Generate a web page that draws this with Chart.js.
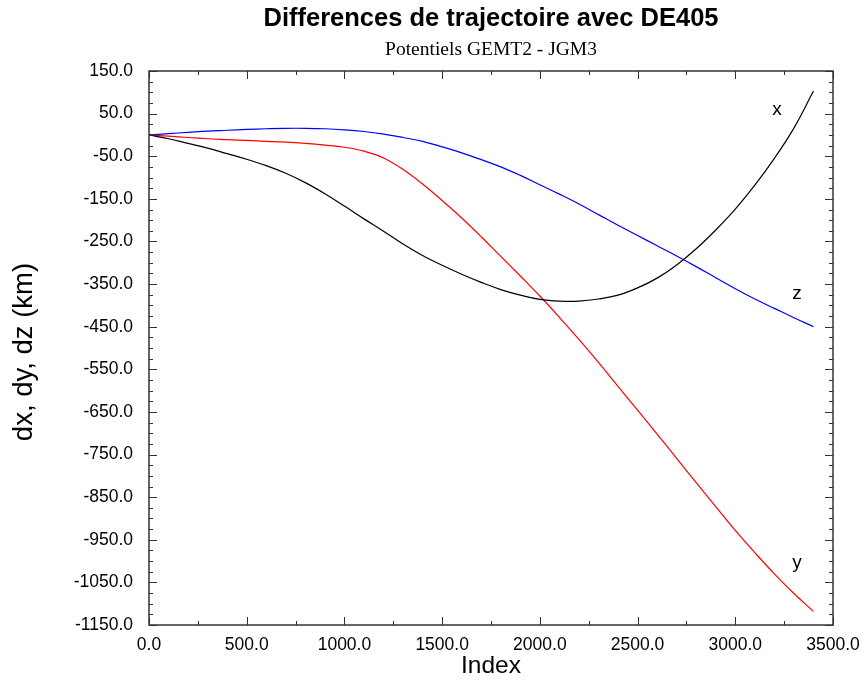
<!DOCTYPE html>
<html lang="fr">
<head>
    <meta charset="UTF-8">
    <title>Differences de trajectoire avec DE405</title>
    <script src="https://cdn.jsdelivr.net/npm/chart.js"></script>
    <style>
        html, body { margin: 0; padding: 0; background: #fff; }
        #wrap { width: 865px; height: 682px; }
    </style>
</head>
<body>
<div id="wrap"><canvas id="traj"></canvas></div>
<script>
    // Donnees (index, km)
    const indexVals = [0, 100, 200, 300, 400, 500, 600, 700, 800, 900, 1000, 1100, 1200, 1300, 1400, 1500, 1600, 1700,
                       1800, 1900, 2000, 2100, 2200, 2300, 2400, 2500, 2600, 2700, 2800, 2900, 3000, 3100, 3200, 3300, 3400];
    const dxVals = [0, -9, -20, -31, -44, -57, -72, -90, -112, -138, -167, -197, -226, -256, -283, -306, -327, -346,
                    -363, -376, -386, -390, -390, -385, -376, -359, -336, -305, -267, -223, -174, -118, -55, 16, 103];
    const dyVals = [0, -3, -6, -9, -11, -13, -15, -17, -20, -24, -29, -38, -54, -81, -115, -154, -195, -239,
                    -285, -331, -378, -428, -480, -534, -590, -646, -702, -759, -816, -872, -928, -980, -1030, -1076, -1118];
    const dzVals = [0, 3, 6, 9, 11, 13, 14.5, 15.5, 15.5, 14.5, 12, 8, 2, -6, -15, -28, -42, -58,
                    -75, -95, -117, -139, -162, -187, -212, -236, -260, -284, -309, -335, -361, -385, -407, -429, -450];

    const xTicks = [0, 500, 1000, 1500, 2000, 2500, 3000, 3500];
    const yTicks = [150, 50, -50, -150, -250, -350, -450, -550, -650, -750, -850, -950, -1050, -1150];

    // etiquettes des courbes
    const labelTexts = ['x', 'z', 'y'];
    const labelIndex = [3214, 3316, 3316];
    const labelValue = [58, -373, -1004];

    const pts = vals => indexVals.map((v, i) => ({ x: v, y: vals[i] }));

    // cadre + graduations vers l'interieur sur les 4 cotes
    const framePlugin = {
        id: 'frame',
        afterDatasetsDraw(chart) {
            const { ctx, chartArea: a, scales } = chart;
            ctx.save();
            ctx.strokeStyle = '#333';
            ctx.lineWidth = 1.5;
            ctx.strokeRect(a.left, a.top, a.right - a.left, a.bottom - a.top);
            ctx.lineWidth = 1;
            ctx.beginPath();
            for (let v = 0; v <= 3500; v += 250) {
                const px = Math.round(scales.x.getPixelForValue(v)) + 0.5;
                const len = v % 500 === 0 ? 8 : 4;
                ctx.moveTo(px, a.bottom); ctx.lineTo(px, a.bottom - len);
                ctx.moveTo(px, a.top); ctx.lineTo(px, a.top + len);
            }
            for (let v = -1150; v <= 150; v += 25) {
                const py = Math.round(scales.y.getPixelForValue(v)) + 0.5;
                const len = (v + 1150) % 100 === 0 ? 8 : 4;
                ctx.moveTo(a.left, py); ctx.lineTo(a.left + len, py);
                ctx.moveTo(a.right, py); ctx.lineTo(a.right - len, py);
            }
            ctx.stroke();
            ctx.restore();
        }
    };

    // titres et etiquettes
    const textPlugin = {
        id: 'texts',
        afterDraw(chart) {
            const { ctx, chartArea: a, scales } = chart;
            const cx = (a.left + a.right) / 2;
            const cy = (a.top + a.bottom) / 2;
            ctx.save();
            ctx.fillStyle = '#000';
            ctx.textAlign = 'center';
            ctx.textBaseline = 'middle';
            ctx.font = 'bold 25.5px "Liberation Sans", Arial, sans-serif';
            ctx.fillText('Differences de trajectoire avec DE405', cx, 19);
            ctx.font = '19.5px "Liberation Serif", "Times New Roman", serif';
            ctx.fillText('Potentiels GEMT2 - JGM3', cx, 50);
            ctx.font = '24.5px "Liberation Sans", Arial, sans-serif';
            ctx.fillText('Index', cx, 666);
            ctx.save();
            ctx.translate(24, cy + 4);
            ctx.rotate(-Math.PI / 2);
            ctx.font = '27.5px "Liberation Sans", Arial, sans-serif';
            ctx.fillText('dx, dy, dz (km)', 0, 0);
            ctx.restore();
            ctx.font = '19px "Liberation Sans", Arial, sans-serif';
            labelTexts.forEach((t, i) => {
                ctx.fillText(t, scales.x.getPixelForValue(labelIndex[i]), scales.y.getPixelForValue(labelValue[i]));
            });
            ctx.restore();
        }
    };

    const tickFont = { family: '"Liberation Sans", Arial, sans-serif', size: 17.5 };

    new Chart(document.getElementById('traj'), {
        type: 'line',
        data: {
            datasets: [
                { label: 'dx', data: pts(dxVals), borderColor: '#000000' },
                { label: 'dy', data: pts(dyVals), borderColor: '#ff0000' },
                { label: 'dz', data: pts(dzVals), borderColor: '#0000ff' }
            ]
        },
        options: {
            responsive: true,
            maintainAspectRatio: false,
            animation: false,
            layout: { padding: { top: 71, right: 32, left: 0, bottom: 0 } },
            elements: {
                line: { borderWidth: 1.2, tension: 0.4, fill: false },
                point: { radius: 0 }
            },
            plugins: {
                legend: { display: false },
                title: { display: false },
                tooltip: { enabled: false }
            },
            scales: {
                x: {
                    type: 'linear',
                    min: 0, max: 3500,
                    afterBuildTicks: s => { s.ticks = xTicks.map(v => ({ value: v })); },
                    afterFit: s => { s.height = 57; s.paddingLeft = 0; s.paddingRight = 0; },
                    grid: { display: false, drawTicks: false },
                    border: { display: false },
                    ticks: { color: '#000', font: tickFont, padding: 10, maxRotation: 0,
                             callback: v => v.toFixed(1) }
                },
                y: {
                    type: 'linear',
                    min: -1150, max: 150,
                    afterBuildTicks: s => { s.ticks = yTicks.map(v => ({ value: v })); },
                    afterFit: s => { s.width = 149; s.paddingTop = 0; s.paddingBottom = 0; },
                    grid: { display: false, drawTicks: false },
                    border: { display: false },
                    ticks: { color: '#000', font: tickFont, padding: 16,
                             callback: v => v.toFixed(1) }
                }
            }
        },
        plugins: [framePlugin, textPlugin]
    });
</script>
</body>
</html>
